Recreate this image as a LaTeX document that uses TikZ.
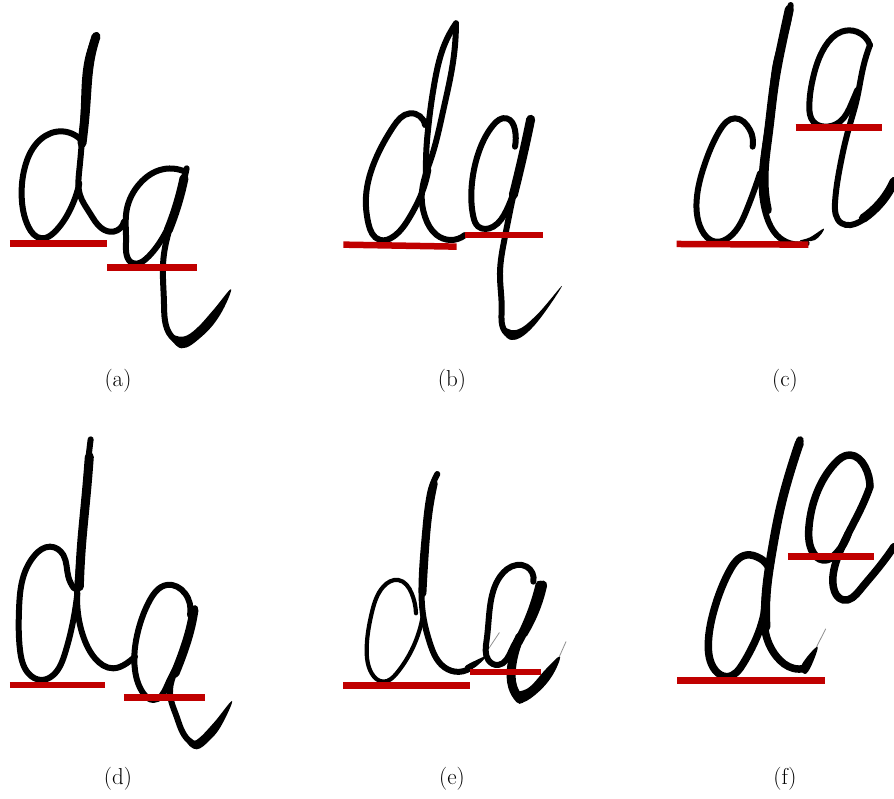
\documentclass[tikz,border=0pt]{standalone}
\usetikzlibrary{hobby}
\definecolor{barred}{RGB}{192,0,0}
\tikzset{
  x=1pt,y=-1pt,
  ink/.style={draw=black,line width=6pt,line cap=round,line join=round},
  heavy/.style={draw=black,line width=9pt,line cap=round,line join=round},
  fstroke/.style={draw=black,line width=7.5pt,line cap=round,line join=round},
  thin ink/.style={draw=black,line width=4.2pt,line cap=round,line join=round},
  hair/.style={draw=black!45,line width=0.8pt,line cap=round},
  bar/.style={draw=barred,line width=6.5pt,line cap=butt},
  sublabel/.style={font=\fontsize{23}{27}\selectfont,inner sep=0pt,text=black}
}
\newcommand{\stroke}[2][ink]{\draw[#1,use Hobby shortcut] #2;}
\newcommand{\blob}[1]{\fill[black] plot[smooth cycle,tension=0.7] coordinates {#1};}
\begin{document}
\begin{tikzpicture}
\useasboundingbox (0,0) rectangle (894,798);
\clip (0,0) rectangle (894,798);

% (a)
\begin{scope}[shift={(0,20)},scale=0.3333]
\stroke{(290,45)..(268,100)..(252,250)..(238,450)..(240,525)..(270,580)..(305,625)..(340,635)..(372,605)}
\stroke[heavy]{(288,50)..(272,110)..(258,250)..(246,370)}
\stroke{(238,355)..(170,335)..(110,370)..(75,440)..(65,530)..(85,620)..(125,655)..(165,635)..(210,570)..(238,490)}
\stroke{(555,455)..(480,450)..(420,490)..(380,570)..(378,670)..(400,730)..(440,715)..(490,650)..(515,600)}
\stroke{(560,445)..(530,560)..(505,640)..(490,720)..(492,850)..(515,950)..(550,972)}
\stroke[heavy]{(505,630)..(530,560)..(552,475)}
\blob{(510,945)(545,985)(605,950)(660,885)(693,808)(640,870)(590,925)(550,950)}
\draw[bar] (30,671) -- (322,671);
\draw[bar] (322,742) -- (590,742);
\end{scope}

% (b)
\begin{scope}[shift={(330,10)},scale=0.3333]
\stroke{(288,500)..(292,380)..(315,210)..(345,100)..(378,40)}
\stroke{(378,40)..(370,150)..(340,300)..(305,440)..(275,560)..(285,620)..(320,675)..(360,690)..(405,675)}
\stroke{(285,345)..(240,310)..(190,350)..(140,440)..(108,560)..(115,640)..(150,690)..(190,680)..(240,620)..(275,550)..(295,480)}
\stroke{(555,410)..(555,360)..(530,325)..(490,345)..(445,430)..(425,530)..(430,620)..(445,650)..(490,650)..(530,600)..(550,550)}
\stroke{(602,325)..(570,470)..(545,580)..(525,680)..(510,790)..(515,900)..(530,970)..(555,980)}
\stroke[heavy]{(550,555)..(572,465)..(602,328)}
\blob{(515,950)(545,990)(610,950)(696,828)(620,915)(560,960)}
\draw[bar] (40,704) -- (380,710);
\draw[bar] (405,675) -- (640,675);
\end{scope}

% (c)
\begin{scope}[shift={(660,0)},scale=0.3333]
\stroke{(392,15)..(375,100)..(350,180)..(335,300)..(315,440)..(305,560)..(320,650)..(350,705)..(390,730)..(440,730)}
\stroke[heavy]{(388,28)..(368,120)..(345,240)..(325,400)..(312,540)..(322,630)}
\blob{(420,722)(465,720)(492,686)(450,712)}
\stroke{(278,440)..(270,390)..(225,355)..(180,390)..(135,490)..(110,600)..(125,690)..(165,725)..(210,710)..(260,630)..(300,520)}
\stroke{(630,135)..(590,95)..(545,95)..(495,140)..(460,230)..(448,320)..(460,365)..(495,380)..(540,365)..(575,310)..(592,270)}
\stroke{(630,135)..(610,200)..(590,300)..(565,390)..(540,500)..(525,610)..(545,670)..(600,665)..(660,610)..(702,540)}
\stroke[heavy]{(610,655)..(662,608)..(702,545)}
\draw[bar] (50,732) -- (445,734);
\draw[bar] (407,382) -- (665,382);
\end{scope}

% (d)
\begin{scope}[shift={(0,430)},scale=0.3333]
\stroke{(272,28)..(262,120)..(250,280)..(235,430)..(232,530)..(250,620)..(285,685)..(340,715)..(380,700)..(405,680)}
\stroke[heavy]{(268,80)..(258,200)..(245,340)..(238,470)}
\stroke{(222,475)..(205,440)..(190,375)..(150,350)..(105,375)..(70,440)..(57,540)..(60,660)..(85,730)..(125,750)..(160,735)..(195,670)..(220,570)..(232,490)}
\stroke{(570,555)..(555,490)..(500,465)..(450,510)..(415,600)..(405,720)..(430,790)..(460,810)..(500,770)..(530,710)}
\stroke{(585,535)..(570,600)..(540,690)..(510,790)..(530,860)..(565,930)..(590,945)}
\stroke[heavy]{(525,730)..(550,665)..(570,600)..(582,540)}
\blob{(560,935)(590,958)(630,930)(665,885)(696,813)(640,880)(590,930)}
\draw[bar] (30,765) -- (314,765);
\draw[bar] (372,802) -- (616,802);
\end{scope}

% (e)
\begin{scope}[shift={(330,460)},scale=0.3333]
\stroke{(322,42)..(300,100)..(285,220)..(275,360)..(280,470)..(300,550)..(335,615)..(375,635)..(420,625)}
\stroke[fstroke]{(312,70)..(296,160)..(285,280)..(278,400)}
\blob{(405,620)(430,625)(468,590)(440,600)}
\draw[hair,use Hobby shortcut] (460,590)..(508,518);
\stroke[thin ink]{(258,460)..(245,400)..(205,360)..(160,380)..(125,460)..(110,570)..(125,640)..(160,665)..(200,640)..(250,560)..(278,470)}
\stroke{(610,365)..(590,320)..(560,315)..(510,350)..(480,440)..(470,540)..(475,600)..(505,615)..(545,570)..(575,520)}
\stroke[heavy]{(565,545)..(600,470)..(630,375)}
\stroke[heavy]{(580,520)..(615,450)..(638,375)}
\stroke[heavy]{(570,530)..(545,620)..(548,680)..(570,718)}
\blob{(550,700)(570,728)(615,705)(665,650)(690,590)(650,625)(600,680)(565,695)}
\draw[hair] (688,590) -- (708,545);
\draw[bar] (40,676) -- (420,676);
\draw[bar] (420,636) -- (632,636);
\end{scope}

% (f)
\begin{scope}[shift={(660,430)},scale=0.3333]
\stroke[fstroke]{(420,30)..(395,110)..(365,220)..(335,370)..(315,520)..(315,600)..(350,680)..(400,715)..(435,715)}
\stroke[heavy]{(418,40)..(392,120)..(362,230)..(335,370)..(318,500)..(318,590)}
\blob{(425,705)(435,732)(455,705)(472,650)}
\draw[hair] (470,650) -- (497,597);
\stroke[fstroke]{(325,410)..(300,385)..(260,375)..(210,420)..(165,530)..(145,640)..(165,720)..(200,740)..(250,700)..(295,610)..(320,500)}
\stroke[fstroke]{(630,170)..(615,110)..(570,75)..(525,100)..(470,190)..(447,290)..(455,360)..(490,390)..(530,370)..(565,310)}
\stroke[fstroke]{(630,170)..(610,220)..(565,310)..(530,390)..(520,470)..(550,510)..(600,480)..(650,420)..(702,350)}
\draw[bar] (52,751) -- (495,751);
\draw[bar] (384,380) -- (642,380);
\end{scope}

\node[sublabel] (la) at (118,381) {(a)};
\node[sublabel] (lb) at (452,381) {(b)};
\node[sublabel] (lc) at (785,381) {(c)};
\node[sublabel] (ld) at (118,779) {(d)};
\node[sublabel] (le) at (452,779) {(e)};
\node[sublabel] (lf) at (785,779) {(f)};
\end{tikzpicture}
\end{document}
